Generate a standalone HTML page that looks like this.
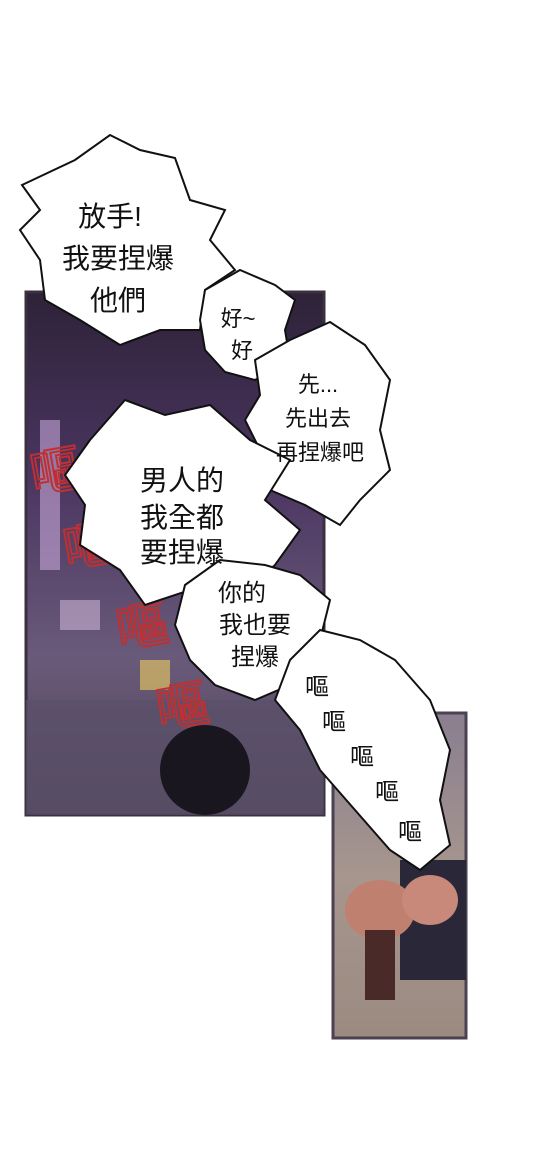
<!DOCTYPE html>
<html><head><meta charset="utf-8"><style>
html,body{margin:0;padding:0;background:#fff;}
#c{position:relative;width:540px;height:1175px;overflow:hidden;background:#fff;}
svg text{font-family:"Liberation Sans","Noto Sans CJK TC","Noto Sans CJK SC",sans-serif;}
</style></head><body>
<div id="c">
<svg width="540" height="1175" viewBox="0 0 540 1175">
<defs>
<linearGradient id="g1" x1="0" y1="0" x2="0" y2="1">
<stop offset="0" stop-color="#2e2238"/><stop offset="0.35" stop-color="#4a3560"/><stop offset="0.7" stop-color="#6a5a7a"/><stop offset="1" stop-color="#4d4458"/>
</linearGradient>
<linearGradient id="g2" x1="0" y1="0" x2="0" y2="1">
<stop offset="0" stop-color="#8a7e90"/><stop offset="0.5" stop-color="#a6968e"/><stop offset="1" stop-color="#9a8a80"/>
</linearGradient>
</defs>
<g>
<rect x="26" y="292" width="298" height="523" fill="url(#g1)" stroke="#3a3040" stroke-width="3"/>
<rect x="40" y="420" width="20" height="150" fill="#c8a8d8" opacity="0.6"/>
<rect x="60" y="600" width="40" height="30" fill="#e0c8e8" opacity="0.5"/>
<rect x="140" y="660" width="30" height="30" fill="#f0d060" opacity="0.6"/>
<rect x="26" y="700" width="298" height="115" fill="#5a5068" opacity="0.7"/>
<ellipse cx="205" cy="770" rx="45" ry="45" fill="#1a1620"/>
</g>
<g>
<rect x="333" y="713" width="133" height="325" fill="url(#g2)" stroke="#4a4250" stroke-width="3"/>
<rect x="400" y="860" width="66" height="120" fill="#2a2838"/>
<ellipse cx="380" cy="910" rx="35" ry="30" fill="#c08070"/>
<rect x="365" y="930" width="30" height="70" fill="#4a2a28"/>
<ellipse cx="430" cy="900" rx="28" ry="25" fill="#c8887a"/>
</g>
<g fill="none" stroke="#c03030" stroke-width="2" font-size="52">
<text x="30" y="490" transform="rotate(-10 55 470)">嘔</text>
<text x="62" y="565" transform="rotate(-10 85 540)">嘔</text>
<text x="115" y="645" transform="rotate(-10 140 620)">嘔</text>
<text x="155" y="725" transform="rotate(-10 180 700)">嘔</text>
</g>
<g stroke="#111" stroke-width="2" fill="#fff">
<polygon points="22,185 75,160 110,135 140,150 175,158 190,200 225,210 210,240 235,270 205,290 200,330 160,330 120,345 80,320 45,300 40,260 20,230 40,210"/>
<polygon points="205,290 240,270 275,285 295,300 285,330 290,360 255,380 225,372 205,350 200,320"/>
<polygon points="255,360 290,340 330,322 365,345 390,380 380,430 390,470 360,500 340,525 305,505 270,490 260,450 245,420 260,395"/>
<polygon points="90,440 125,400 165,415 210,405 250,440 290,460 265,500 300,530 275,565 240,595 190,590 145,605 120,570 80,545 85,505 65,475"/>
<polygon points="185,585 220,560 265,565 300,575 330,600 320,640 330,670 290,685 255,700 215,685 190,660 175,625"/>
<polygon points="290,660 320,630 360,640 395,660 430,700 450,750 440,800 450,845 420,870 390,850 355,810 320,770 300,730 275,700"/>
</g>
<g fill="#111" text-anchor="middle">
<text x="110" y="226" font-size="28">放手!</text>
<text x="118" y="268" font-size="28">我要捏爆</text>
<text x="118" y="310" font-size="28">他們</text>
<text x="238" y="326" font-size="22">好~</text>
<text x="242" y="358" font-size="22">好</text>
<text x="318" y="392" font-size="22">先...</text>
<text x="318" y="426" font-size="22">先出去</text>
<text x="320" y="460" font-size="22">再捏爆吧</text>
<text x="182" y="490" font-size="28">男人的</text>
<text x="182" y="527" font-size="28">我全都</text>
<text x="182" y="562" font-size="28">要捏爆</text>
<text x="242" y="601" font-size="24">你的</text>
<text x="255" y="633" font-size="24">我也要</text>
<text x="255" y="665" font-size="24">捏爆</text>
</g>
<g fill="#111" font-size="24">
<text x="305" y="695">嘔</text><text x="322" y="730">嘔</text><text x="350" y="765">嘔</text>
<text x="375" y="800">嘔</text><text x="398" y="840">嘔</text>
</g>
</svg>
</div>
</body></html>
